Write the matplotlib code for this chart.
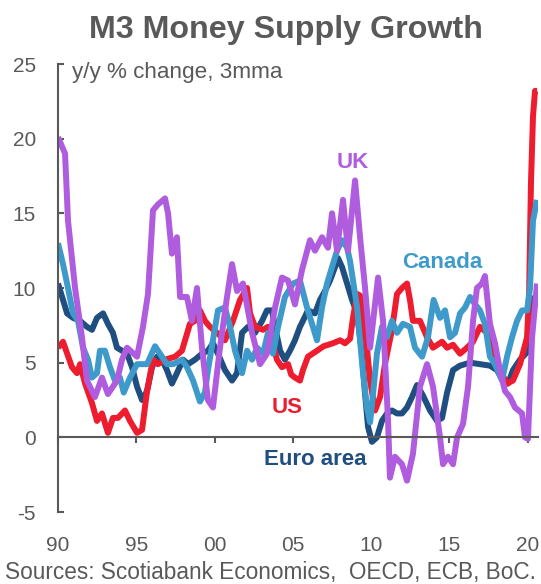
import matplotlib
matplotlib.use("Agg")
import matplotlib.pyplot as plt

plt.rcParams['font.family'] = ['Liberation Sans', 'DejaVu Sans']

# ---------------- data (decimal year, y/y % change, 3mma) ----------------
uk_years = [1990.00, 1990.45, 1990.64, 1991.09, 1991.53, 1991.85, 1992.36, 1992.81, 1993.19, 1993.77,
            1994.09, 1994.41, 1995.05, 1995.43, 1995.75, 1996.07, 1996.39, 1996.84, 1997.03, 1997.28,
            1997.60, 1997.80, 1998.24, 1998.56, 1998.88, 1999.20, 1999.58, 1999.90, 2000.35, 2000.80,
            2001.12, 2001.44, 2001.82, 2002.40, 2002.91, 2003.35, 2003.87, 2004.31, 2004.70, 2005.14,
            2005.59, 2006.10, 2006.42, 2006.87, 2007.25, 2007.51, 2007.83, 2008.21, 2008.53, 2008.98,
            2009.30, 2009.62, 2009.94, 2010.45, 2010.77, 2011.09, 2011.21, 2011.53, 2011.98, 2012.30,
            2012.68, 2013.13, 2013.58, 2013.96, 2014.41, 2014.60, 2014.92, 2015.24, 2015.50, 2015.88,
            2016.20, 2016.52, 2016.77, 2017.09, 2017.28, 2017.60, 2017.92, 2018.24, 2018.56, 2018.88,
            2019.20, 2019.65, 2019.84, 2020.03, 2020.29, 2020.61]
uk_values = [20.1, 19.0, 14.5, 10.0, 6.7, 3.8, 2.7, 4.0, 2.9, 3.8,
             5.2, 6.0, 5.4, 7.4, 9.6, 15.2, 15.6, 16.0, 15.0, 12.3,
             13.4, 9.4, 9.4, 7.8, 10.0, 6.0, 2.5, 2.0, 6.0, 9.4,
             11.6, 9.8, 10.3, 7.0, 4.9, 5.6, 8.7, 10.7, 10.5, 8.9,
             11.2, 13.2, 12.5, 13.4, 12.7, 15.0, 12.5, 15.9, 12.5, 17.2,
             13.4, 10.0, 6.0, 10.7, 7.8, 1.1, -2.7, -1.3, -1.8, -2.9,
             -1.1, 3.4, 4.9, 3.4, 0.0, -1.8, -1.3, -1.8, 0.0, 0.9,
             3.4, 7.8, 10.0, 10.3, 10.8, 7.6, 6.3, 4.5, 3.1, 2.7,
             2.0, 1.6, 0.0, -0.1, 6.7, 10.3]

us_years = [1990.00, 1990.32, 1990.89, 1991.21, 1991.41, 1991.73, 1992.17, 1992.49, 1992.81, 1993.19,
            1993.51, 1993.83, 1994.28, 1994.60, 1995.05, 1995.37, 1995.69, 1996.07, 1996.39, 1996.84,
            1997.48, 1997.92, 1998.43, 1998.75, 1999.07, 1999.39, 1999.71, 2000.16, 2000.48, 2000.67,
            2001.18, 2001.63, 2002.08, 2002.27, 2002.59, 2003.10, 2003.42, 2003.67, 2003.99, 2004.31,
            2004.70, 2004.90, 2005.14, 2005.46, 2005.65, 2005.97, 2006.55, 2006.97, 2007.57, 2008.02,
            2008.34, 2008.66, 2008.85, 2009.11, 2009.30, 2009.49, 2009.74, 2009.94, 2010.26, 2010.58,
            2010.89, 2011.34, 2011.66, 2011.98, 2012.30, 2012.49, 2012.68, 2013.13, 2013.58, 2013.96,
            2014.54, 2014.86, 2015.24, 2015.69, 2016.13, 2016.52, 2016.96, 2017.41, 2017.80, 2018.24,
            2018.69, 2019.07, 2019.52, 2019.97, 2020.10, 2020.22, 2020.35, 2020.48, 2020.61]
us_values = [6.0, 6.4, 4.7, 4.3, 4.9, 3.6, 2.3, 1.1, 1.6, 0.3,
             1.3, 1.3, 1.8, 1.1, 0.3, 0.5, 3.1, 5.2, 4.9, 5.2,
             5.4, 5.8, 7.6, 7.8, 8.5, 7.8, 7.4, 7.0, 6.7, 6.5,
             7.8, 9.2, 10.0, 8.3, 7.4, 7.2, 7.4, 6.5, 5.2, 4.7,
             4.9, 4.2, 4.0, 3.8, 4.5, 5.4, 5.8, 6.1, 6.3, 6.5,
             6.3, 6.6, 8.0, 9.6, 9.5, 8.0, 6.0, 3.8, 1.8, 2.7,
             4.9, 7.2, 9.6, 10.0, 10.3, 9.2, 7.8, 7.8, 6.7, 6.0,
             6.4, 6.0, 6.2, 5.6, 6.0, 6.4, 7.4, 7.0, 5.6, 4.5,
             3.6, 3.8, 4.9, 6.7, 9.6, 17.0, 21.5, 23.2, 23.2]

ca_years = [1990.00, 1990.32, 1990.64, 1990.96, 1991.28, 1991.60, 1991.92, 1992.17, 1992.49, 1992.68,
            1993.00, 1993.32, 1993.64, 1993.96, 1994.20, 1994.60, 1995.05, 1995.69, 1996.20, 1996.52,
            1996.96, 1997.35, 1997.92, 1998.24, 1998.63, 1999.07, 1999.39, 1999.58, 1999.90, 2000.22,
            2000.67, 2000.99, 2001.31, 2001.76, 2002.08, 2002.40, 2002.72, 2003.10, 2003.42, 2003.74,
            2004.06, 2004.50, 2005.02, 2005.46, 2005.91, 2006.23, 2006.55, 2006.87, 2007.19, 2007.51,
            2007.83, 2008.15, 2008.47, 2008.66, 2008.85, 2009.11, 2009.30, 2009.49, 2009.74, 2009.94,
            2010.13, 2010.38, 2010.70, 2011.02, 2011.34, 2011.66, 2012.04, 2012.49, 2012.81, 2013.26,
            2013.64, 2014.00, 2014.41, 2014.73, 2015.05, 2015.37, 2015.69, 2016.01, 2016.33, 2016.65,
            2016.96, 2017.28, 2017.60, 2017.92, 2018.37, 2018.69, 2019.01, 2019.33, 2019.65, 2019.97,
            2020.16, 2020.35, 2020.61]
ca_values = [13.0, 11.6, 10.0, 8.3, 7.8, 6.0, 5.2, 4.0, 4.3, 5.8,
             5.8, 4.7, 3.8, 4.0, 3.0, 4.0, 4.9, 4.9, 6.1, 5.6,
             4.9, 4.9, 5.2, 4.7, 3.8, 2.4, 3.0, 4.5, 6.5, 8.5,
             8.7, 7.4, 5.8, 4.3, 5.8, 5.2, 6.0, 5.6, 7.0, 5.6,
             7.4, 9.4, 10.3, 10.5, 8.7, 7.6, 6.5, 8.7, 10.3, 11.4,
             12.5, 13.2, 12.7, 11.8, 10.5, 8.7, 6.5, 4.3, 2.0, 1.0,
             2.9, 5.6, 7.4, 6.7, 7.8, 7.0, 7.6, 7.4, 6.0, 5.4,
             6.7, 9.2, 8.0, 8.5, 6.7, 7.0, 8.3, 8.7, 9.4, 8.9,
             8.5, 7.6, 5.4, 4.9, 3.8, 5.4, 6.7, 7.8, 8.5, 8.5,
             10.0, 14.5, 15.9]

ea_years = [1990.00, 1990.32, 1990.58, 1990.96, 1991.41, 1991.85, 1992.17, 1992.49, 1992.88, 1993.19,
            1993.51, 1993.77, 1994.09, 1994.41, 1994.73, 1995.05, 1995.37, 1995.69, 1996.01, 1996.33,
            1996.65, 1996.96, 1997.28, 1997.60, 1997.99, 1998.31, 1998.75, 1999.20, 1999.58, 1999.90,
            2000.22, 2000.67, 2001.12, 2001.44, 2001.76, 2002.14, 2002.59, 2003.04, 2003.35, 2003.67,
            2003.87, 2004.19, 2004.50, 2004.82, 2005.14, 2005.46, 2005.65, 2005.97, 2006.42, 2006.74,
            2007.06, 2007.38, 2007.70, 2007.89, 2008.15, 2008.47, 2008.79, 2009.11, 2009.42, 2009.62,
            2009.81, 2010.06, 2010.38, 2010.70, 2011.02, 2011.34, 2011.66, 2011.98, 2012.30, 2012.62,
            2012.94, 2013.32, 2013.77, 2014.22, 2014.54, 2014.86, 2015.24, 2015.69, 2016.33, 2016.96,
            2017.60, 2018.05, 2018.43, 2018.75, 2019.07, 2019.52, 2019.97, 2020.16, 2020.48, 2020.61]
ea_values = [10.3, 9.2, 8.3, 8.0, 7.8, 7.4, 7.2, 8.0, 8.3, 7.6,
             7.0, 6.0, 5.8, 5.6, 4.7, 3.4, 2.5, 3.1, 4.7, 5.4,
             5.2, 4.5, 3.6, 4.3, 5.2, 4.9, 5.2, 5.6, 5.8, 6.3,
             5.6, 4.5, 3.8, 4.3, 7.0, 7.4, 7.0, 7.8, 8.5, 8.5,
             7.4, 5.8, 5.2, 5.8, 6.5, 7.4, 7.8, 8.5, 8.3, 9.2,
             9.8, 10.5, 11.4, 12.0, 11.4, 10.3, 9.2, 8.3, 5.6, 2.9,
             0.7, -0.3, 0.0, 1.1, 1.6, 1.8, 1.6, 1.6, 2.0, 2.7,
             3.5, 2.8, 1.8, 1.1, 1.3, 3.0, 4.5, 4.8, 5.0, 4.9,
             4.8, 4.5, 3.8, 3.6, 4.5, 5.2, 5.7, 7.6, 9.4, 9.5]

x_ticks = [1990, 1995, 2000, 2005, 2010, 2015, 2020]
x_tick_labels = ["90", "95", "00", "05", "10", "15", "20"]
y_ticks = [-5, 0, 5, 10, 15, 20, 25]

# ---------------- styling ----------------
GRAY = "#595959"
C_UK = "#AF5CDF"
C_US = "#ED1C2E"
C_CA = "#3D9ACB"
C_EA = "#1F4E80"
LW = 4.3

fig = plt.figure(figsize=(5.41, 5.84), dpi=100)
ax = fig.add_axes([58 / 541, 72 / 584, 480 / 541, 448 / 584])

for xs, ys, c in [(ea_years, ea_values, C_EA), (us_years, us_values, C_US),
                  (ca_years, ca_values, C_CA), (uk_years, uk_values, C_UK)]:
    ax.plot(xs, ys, color=c, lw=LW, solid_joinstyle='round', solid_capstyle='butt')

ax.set_xlim(1990, 2020.67)
ax.set_ylim(-5, 25)

for s in ['top', 'right']:
    ax.spines[s].set_visible(False)
ax.spines['left'].set_color(GRAY)
ax.spines['left'].set_linewidth(1.5)
ax.spines['bottom'].set_position(('data', 0))
ax.spines['bottom'].set_color(GRAY)
ax.spines['bottom'].set_linewidth(1.5)

ax.set_yticks(y_ticks)
ax.set_yticklabels([str(v) for v in y_ticks])
ax.tick_params(axis='y', direction='in', length=4, width=1.5, color=GRAY,
               labelcolor=GRAY, labelsize=15, pad=16)
ax.set_xticks(x_ticks)
ax.tick_params(axis='x', direction='out', length=4, width=1.5, color=GRAY,
               labelbottom=False)

sec = ax.secondary_xaxis(0)
sec.set_xticks(x_ticks)
sec.set_xticklabels(x_tick_labels)
sec.spines['bottom'].set_visible(False)
sec.tick_params(axis='x', length=0, labelsize=15, labelcolor=GRAY, pad=17)

# texts
fig.text(286 / 541, 1 - 38 / 584, "M3 Money Supply Growth", ha='center', va='baseline',
         fontsize=23.2, fontweight='bold', color=GRAY)
fig.text(72 / 541, 1 - 78 / 584, "y/y % change, 3mma", ha='left', va='baseline',
         fontsize=16.2, color=GRAY)
fig.text(5 / 541, 1 - 579 / 584, "Sources: Scotiabank Economics,  OECD, ECB, BoC.", ha='left',
         va='baseline', fontsize=16.3, color=GRAY)

ax.text(2008.85, 18.06, "UK", color=C_UK, fontsize=16, fontweight='bold', ha='center', va='baseline')
ax.text(2014.54, 11.37, "Canada", color=C_CA, fontsize=16, fontweight='bold', ha='center', va='baseline')
ax.text(2004.63, 1.6, "US", color=C_US, fontsize=16, fontweight='bold', ha='center', va='baseline')
ax.text(2006.42, -1.87, "Euro area", color=C_EA, fontsize=16, fontweight='bold', ha='center', va='baseline')

fig.savefig("out.png", dpi=100)
